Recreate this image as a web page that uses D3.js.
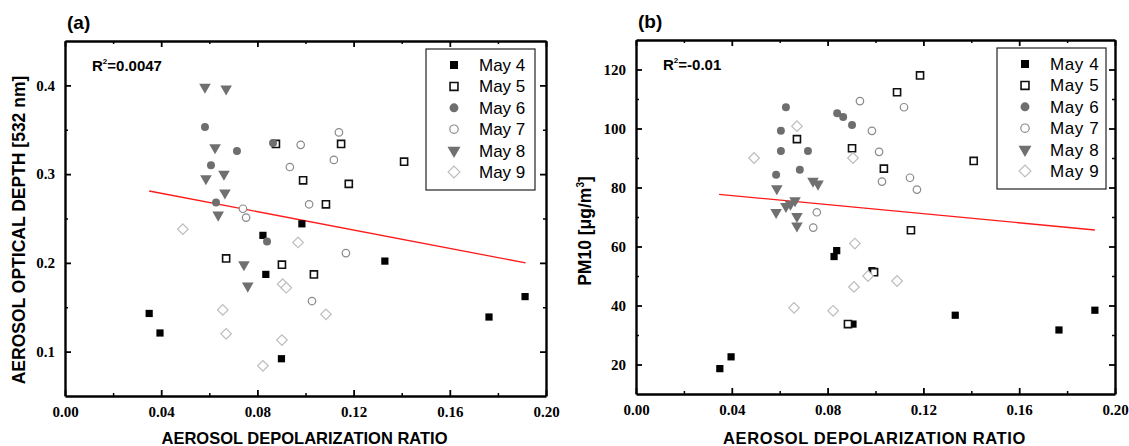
<!DOCTYPE html>
<html lang="en">
<head>
<meta charset="utf-8">
<style type="text/css">
    body { margin: 0; background: #fff; }
    svg { display: block; }
    .ticklab text { font-family: "Liberation Serif", serif; font-weight: bold; font-size: 15px; fill: #000; }
    .title { font-family: "Liberation Sans", Arial, sans-serif; font-weight: bold; fill: #000; }
    .leg { font-family: "Liberation Sans", Arial, sans-serif; font-size: 17px; fill: #000; }
</style>
</head>
<body>
<svg width="1129" height="446"></svg>

<script src="https://d3js.org/d3.v7.min.js"></script>
<script type="text/javascript">
// legend labels
var days = ["May 4", "May 5", "May 6", "May 7", "May 8", "May 9"];

// (a) depolarization ratio vs AOD [x, y]
var aodMay4 = [[0.035,0.143],[0.0395,0.121],[0.0823,0.231],[0.0835,0.187],[0.0985,0.244],[0.090,0.092],[0.133,0.202],[0.1763,0.139],[0.1913,0.162]];
var aodMay5 = [[0.067,0.205],[0.0877,0.334],[0.0902,0.198],[0.099,0.293],[0.1035,0.187],[0.1085,0.266],[0.1148,0.334],[0.118,0.289],[0.141,0.314]];
var aodMay6 = [[0.0582,0.353],[0.0607,0.310],[0.0628,0.268],[0.0715,0.326],[0.084,0.224],[0.0865,0.335]];
var aodMay7 = [[0.074,0.261],[0.0753,0.251],[0.0935,0.308],[0.098,0.333],[0.1015,0.266],[0.1027,0.157],[0.1118,0.316],[0.1139,0.347],[0.1168,0.211]];
var aodMay8 = [[0.0582,0.398],[0.067,0.396],[0.0624,0.330],[0.0586,0.295],[0.0661,0.300],[0.0665,0.279],[0.0637,0.254],[0.0744,0.198],[0.076,0.174]];
var aodMay9 = [[0.049,0.238],[0.0656,0.147],[0.067,0.120],[0.0823,0.084],[0.0902,0.113],[0.0905,0.176],[0.092,0.172],[0.0969,0.223],[0.1085,0.142]];
var aodFit = [[0.035,0.281],[0.1915,0.200]];

// (b) depolarization ratio vs PM10 [x, y]
var pmMay4 = [[0.035,18.6],[0.0397,22.6],[0.0827,56.6],[0.0838,58.6],[0.0906,33.7],[0.0985,51.8],[0.1333,36.7],[0.1766,31.7],[0.1916,38.4]];
var pmMay5 = [[0.0672,96.4],[0.0885,33.7],[0.0902,93.3],[0.0994,51.3],[0.1035,86.4],[0.109,112.3],[0.1148,65.5],[0.1186,118.0],[0.141,89.0]];
var pmMay6 = [[0.0626,107.2],[0.0605,99.2],[0.0605,92.4],[0.0718,92.4],[0.0684,86.0],[0.0585,84.3],[0.084,105.2],[0.0865,103.9],[0.0902,101.2]];
var pmMay7 = [[0.074,66.4],[0.0755,71.6],[0.0935,109.3],[0.0985,99.2],[0.1015,92.1],[0.1027,82.0],[0.1119,107.2],[0.1144,83.3],[0.1173,79.3]];
var pmMay8 = [[0.0588,79.6],[0.0585,71.6],[0.0626,73.6],[0.0645,74.4],[0.0664,75.6],[0.0672,70.2],[0.0672,67.0],[0.0739,82.2],[0.076,81.2]];
var pmMay9 = [[0.0493,90.0],[0.0672,100.8],[0.0906,90.0],[0.0914,61.0],[0.0969,50.0],[0.091,46.3],[0.109,48.3],[0.066,39.2],[0.0823,38.2]];
var pmFit = [[0.0347,77.7],[0.1916,65.6]];

var xTicks = [0, 0.04, 0.08, 0.12, 0.16, 0.20];
var xMinor = [0.02, 0.06, 0.10, 0.14, 0.18];
var aodTicks = [0.1, 0.2, 0.3, 0.4];
var aodMinor = [0.15, 0.25, 0.35];
var pmTicks = [20, 40, 60, 80, 100, 120];
var pmMinor = [30, 50, 70, 90, 110];

var svg = d3.select("svg");

// marker look per day
var marks = [
    { type: d3.symbolSquare, size: 52, fill: "#000", stroke: "none", rot: 0 },
    { type: d3.symbolSquare, size: 50, fill: "#fff", stroke: "#111", rot: 0, sw: 1.6 },
    { type: d3.symbolCircle, size: 50, fill: "#6e6e6e", stroke: "none", rot: 0 },
    { type: d3.symbolCircle, size: 44, fill: "#fff", stroke: "#8a8a8a", rot: 0, sw: 1.2 },
    { type: d3.symbolTriangle, size: 58, fill: "#707070", stroke: "none", rot: 180 },
    { type: d3.symbolSquare, size: 56, fill: "#fff", stroke: "#bdbdbd", rot: 45, sw: 1.2 }
];

function drawPanel(opt) {
    var x = d3.scaleLinear().domain([0, 0.2]).range([opt.left, opt.right]);
    var y = d3.scaleLinear().domain(opt.yDomain).range([opt.bottom, opt.top]);
    var g = svg.append("g");

    // minor ticks, no labels
    function minor(axis, pos) {
        var a = g.append("g").attr("transform", pos)
            .call(axis.tickSize(-3).tickSizeOuter(0).tickFormat(""));
        a.select(".domain").remove();
        a.selectAll("line").attr("stroke-width", 1.5);
    }
    minor(d3.axisBottom(x).tickValues(xMinor), "translate(0," + opt.bottom + ")");
    minor(d3.axisTop(x).tickValues(xMinor), "translate(0," + opt.top + ")");
    minor(d3.axisLeft(y).tickValues(opt.yMinor), "translate(" + opt.left + ",0)");
    minor(d3.axisRight(y).tickValues(opt.yMinor), "translate(" + opt.right + ",0)");

    // major axes
    var bx = g.append("g").attr("class", "ticklab").attr("transform", "translate(0," + opt.bottom + ")")
        .call(d3.axisBottom(x).tickValues(xTicks).tickSize(-6).tickSizeOuter(0).tickPadding(10).tickFormat(d3.format(".2f")));
    var tx = g.append("g").attr("transform", "translate(0," + opt.top + ")")
        .call(d3.axisTop(x).tickValues(xTicks).tickSize(-6).tickSizeOuter(0).tickFormat(""));
    var ly = g.append("g").attr("class", "ticklab").attr("transform", "translate(" + opt.left + ",0)")
        .call(d3.axisLeft(y).tickValues(opt.yTicks).tickSize(-6).tickSizeOuter(0).tickPadding(10).tickFormat(opt.yFormat));
    var ry = g.append("g").attr("transform", "translate(" + opt.right + ",0)")
        .call(d3.axisRight(y).tickValues(opt.yTicks).tickSize(-6).tickSizeOuter(0).tickFormat(""));
    [bx, tx, ly, ry].forEach(function(a) {
        a.select(".domain").attr("stroke-width", 2.4).attr("stroke", "#000");
        a.selectAll(".tick line").attr("stroke-width", 1.8);
    });

    // fit line
    g.append("path")
        .attr("d", d3.line().x(function(d){ return x(d[0]); }).y(function(d){ return y(d[1]); })(opt.fit))
        .attr("fill", "none").attr("stroke", "#ff1a1a").attr("stroke-width", 1.3);

    // points
    opt.series.forEach(function(pts, i) {
        var m = marks[i];
        g.append("g").selectAll("path").data(pts).enter().append("path")
            .attr("d", d3.symbol().type(m.type).size(m.size))
            .attr("transform", function(d){ return "translate(" + x(d[0]) + "," + y(d[1]) + ") rotate(" + m.rot + ")"; })
            .attr("fill", m.fill).attr("stroke", m.stroke).attr("stroke-width", m.sw || 0);
    });

    // legend
    var lg = g.append("g");
    lg.append("rect").attr("x", opt.leg[0]).attr("y", opt.leg[1]).attr("width", 109).attr("height", 141)
        .attr("fill", "#fff").attr("stroke", "#222").attr("stroke-width", 1.2);
    days.forEach(function(dname, i) {
        var m = marks[i];
        var cy = opt.leg[1] + 16 + i * 21.4;
        lg.append("path")
            .attr("d", d3.symbol().type(m.type).size(m.size * 1.25))
            .attr("transform", "translate(" + (opt.leg[0] + 28) + "," + cy + ") rotate(" + m.rot + ")")
            .attr("fill", m.fill).attr("stroke", m.stroke).attr("stroke-width", m.sw || 0);
        lg.append("text").attr("class", "leg")
            .attr("x", opt.leg[0] + 53).attr("y", cy + 6)
            .attr("letter-spacing", opt.legSpacing)
            .text(dname);
    });

    // panel label and R2
    g.append("text").attr("class", "title").style("font-size", "19px")
        .attr("x", opt.left + 2).attr("y", opt.top - 12).text(opt.label);
    var r = g.append("text").attr("class", "title").style("font-size", "15px")
        .attr("x", opt.left + 27).attr("y", opt.top + 30);
    r.append("tspan").text("R");
    r.append("tspan").style("font-size", "8px").attr("dy", -7).text("2");
    r.append("tspan").attr("dy", 7).text(opt.r2);

    // axis titles
    g.append("text").attr("class", "title").style("font-size", "16.5px").attr("text-anchor", "middle")
        .attr("letter-spacing", opt.legSpacing)
        .attr("x", (opt.left + opt.right) / 2 - 1).attr("y", 444)
        .text("AEROSOL DEPOLARIZATION RATIO");
    return g;
}

var ga = drawPanel({
    left: 65, right: 546, top: 41, bottom: 396,
    yDomain: [0.05, 0.45], yTicks: aodTicks, yMinor: aodMinor, yFormat: d3.format(".1f"),
    series: [aodMay4, aodMay5, aodMay6, aodMay7, aodMay8, aodMay9],
    fit: aodFit, leg: [426, 49], legSpacing: 0, label: "(a)", r2: "=0.0047"
});
ga.append("text").attr("class", "title").style("font-size", "17.5px").attr("text-anchor", "middle")
    .attr("transform", "translate(25,230) rotate(-90)")
    .text("AEROSOL OPTICAL DEPTH [532 nm]");

var gb = drawPanel({
    left: 636, right: 1115, top: 40, bottom: 394,
    yDomain: [10, 130], yTicks: pmTicks, yMinor: pmMinor, yFormat: d3.format("d"),
    series: [pmMay4, pmMay5, pmMay6, pmMay7, pmMay8, pmMay9],
    fit: pmFit, leg: [997, 48], legSpacing: 0.6, label: "(b)", r2: "=-0.01"
});
var yt = gb.append("text").attr("class", "title").style("font-size", "17.5px").attr("text-anchor", "middle")
    .attr("transform", "translate(591,231) rotate(-90)");
yt.append("tspan").text("PM10 [μg/m");
yt.append("tspan").style("font-size", "10px").attr("dy", -7).text("3");
yt.append("tspan").attr("dy", 7).text("]");
</script>
</body>
</html>
